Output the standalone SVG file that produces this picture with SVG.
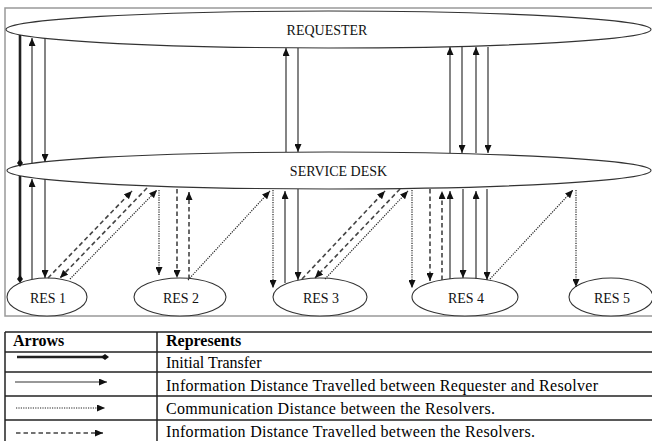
<svg xmlns="http://www.w3.org/2000/svg" width="652" height="441" viewBox="0 0 652 441">
<style>
.node{fill:#fff;stroke:#333;stroke-width:1.1}
.lbl{font-family:"Liberation Serif","Times New Roman",serif;font-size:14px;fill:#111;text-anchor:middle}
.tt{font-family:"Liberation Serif","Times New Roman",serif;font-size:16px;fill:#000}
.b{font-weight:bold}
.thick{stroke:#222;stroke-width:2.6;fill:none}
.solid{stroke:#333;stroke-width:1.2;fill:none}
.dotted{stroke:#222;stroke-width:1.2;stroke-dasharray:1.2 1.2;fill:none}
.dashed{stroke:#444;stroke-width:1.6;stroke-dasharray:4.5 3;fill:none}
.tbl{stroke:#222;stroke-width:1.5;fill:none}
</style>
<defs>
<marker id="ah" markerWidth="8" markerHeight="7" refX="8" refY="3.5" orient="auto" markerUnits="userSpaceOnUse"><path d="M0,0 L8,3.5 L0,7 z" fill="#111"/></marker>
<marker id="dot" markerWidth="8" markerHeight="6" refX="5" refY="3" orient="auto" markerUnits="userSpaceOnUse"><path d="M0,3 L4,0 L8,3 L4,6 z" fill="#111"/></marker>
</defs>
<rect x="5" y="8" width="652" height="308" fill="#fff" stroke="#999" stroke-width="1.5"/>
<g id="requester"><ellipse class="node" cx="328.5" cy="29.5" rx="322.5" ry="18.5"/><text class="lbl" x="327" y="35">REQUESTER</text></g>
<g id="service-desk"><ellipse class="node" cx="329" cy="170.5" rx="322" ry="18.5"/><text class="lbl" x="338.5" y="176">SERVICE DESK</text></g>
<g id="res1"><ellipse class="node" cx="47" cy="297" rx="40" ry="19"/><text class="lbl" x="48" y="303">RES 1</text></g>
<g id="res2"><ellipse class="node" cx="180" cy="297" rx="46" ry="19"/><text class="lbl" x="181" y="303">RES 2</text></g>
<g id="res3"><ellipse class="node" cx="320" cy="297" rx="47" ry="19"/><text class="lbl" x="321" y="303">RES 3</text></g>
<g id="res4"><ellipse class="node" cx="465" cy="297" rx="53" ry="19"/><text class="lbl" x="466" y="303">RES 4</text></g>
<g id="res5"><ellipse class="node" cx="611" cy="297" rx="42" ry="19"/><text class="lbl" x="612" y="303">RES 5</text></g>
<g id="connectors">
<line class="thick" x1="20" y1="35" x2="20" y2="164" marker-end="url(#dot)"/>
<line class="solid" x1="32" y1="163" x2="32" y2="38" marker-end="url(#ah)"/>
<line class="solid" x1="45" y1="38" x2="45" y2="162" marker-end="url(#ah)"/>
<line class="solid" x1="286" y1="152" x2="286" y2="48" marker-end="url(#ah)"/>
<line class="solid" x1="298" y1="48" x2="298" y2="152" marker-end="url(#ah)"/>
<line class="solid" x1="450" y1="153" x2="450" y2="47" marker-end="url(#ah)"/>
<line class="solid" x1="462" y1="47" x2="462" y2="153" marker-end="url(#ah)"/>
<line class="solid" x1="476" y1="153" x2="476" y2="47" marker-end="url(#ah)"/>
<line class="solid" x1="488" y1="47" x2="488" y2="153" marker-end="url(#ah)"/>
<line class="thick" x1="20" y1="176" x2="20" y2="280" marker-end="url(#dot)"/>
<line class="solid" x1="32" y1="279" x2="32" y2="179" marker-end="url(#ah)"/>
<line class="solid" x1="45" y1="179" x2="45" y2="278" marker-end="url(#ah)"/>
<line class="dashed" x1="48" y1="278" x2="132" y2="191" marker-end="url(#ah)"/>
<line class="dashed" x1="147" y1="188" x2="60" y2="278" marker-end="url(#ah)"/>
<line class="dotted" x1="70" y1="279" x2="157" y2="190" marker-end="url(#ah)"/>
<line class="dotted" x1="159" y1="190" x2="159" y2="275" marker-end="url(#ah)"/>
<line class="dashed" x1="177" y1="189" x2="177" y2="278" marker-end="url(#ah)"/>
<line class="dashed" x1="189" y1="279" x2="189" y2="192" marker-end="url(#ah)"/>
<line class="dotted" x1="188" y1="280" x2="270" y2="191" marker-end="url(#ah)"/>
<line class="dotted" x1="273" y1="190" x2="273" y2="288" marker-end="url(#ah)"/>
<line class="solid" x1="285" y1="283" x2="285" y2="191" marker-end="url(#ah)"/>
<line class="solid" x1="298" y1="189" x2="298" y2="280" marker-end="url(#ah)"/>
<line class="dashed" x1="302" y1="279" x2="385" y2="191" marker-end="url(#ah)"/>
<line class="dashed" x1="400" y1="189" x2="315" y2="278" marker-end="url(#ah)"/>
<line class="dotted" x1="325" y1="279" x2="408" y2="191" marker-end="url(#ah)"/>
<line class="dotted" x1="412" y1="190" x2="412" y2="288" marker-end="url(#ah)"/>
<line class="dashed" x1="430" y1="189" x2="430" y2="281" marker-end="url(#ah)"/>
<line class="dashed" x1="442" y1="280" x2="442" y2="191" marker-end="url(#ah)"/>
<line class="solid" x1="450" y1="279" x2="450" y2="191" marker-end="url(#ah)"/>
<line class="solid" x1="463" y1="189" x2="463" y2="278" marker-end="url(#ah)"/>
<line class="solid" x1="476" y1="279" x2="476" y2="191" marker-end="url(#ah)"/>
<line class="solid" x1="487" y1="189" x2="487" y2="280" marker-end="url(#ah)"/>
<line class="dotted" x1="490" y1="279" x2="573" y2="190" marker-end="url(#ah)"/>
<line class="dotted" x1="576" y1="190" x2="576" y2="287" marker-end="url(#ah)"/>
</g>
<g id="legend">
<line class="tbl" x1="5" y1="332" x2="652" y2="332"/>
<line class="tbl" x1="5" y1="352" x2="652" y2="352"/>
<line class="tbl" x1="5" y1="372" x2="652" y2="372"/>
<line class="tbl" x1="5" y1="396" x2="652" y2="396"/>
<line class="tbl" x1="5" y1="420" x2="652" y2="420"/>
<line class="tbl" x1="5" y1="332" x2="5" y2="441"/>
<line class="tbl" x1="157" y1="332" x2="157" y2="441"/>
<text class="tt b" x="13" y="346">Arrows</text>
<text class="tt b" x="166" y="346">Represents</text>
<line class="thick" x1="17" y1="357" x2="106" y2="357" marker-end="url(#dot)"/>
<line class="solid" x1="15" y1="382" x2="107" y2="382" marker-end="url(#ah)"/>
<line class="dotted" x1="16" y1="408" x2="105" y2="408" marker-end="url(#ah)"/>
<line class="dashed" x1="16" y1="433" x2="103" y2="433" marker-end="url(#ah)"/>
<text class="tt" x="166" y="368">Initial Transfer</text>
<text class="tt" x="166" y="391" textLength="432" lengthAdjust="spacing">Information Distance Travelled between Requester and Resolver</text>
<text class="tt" x="166" y="414" textLength="329" lengthAdjust="spacing">Communication Distance between the Resolvers.</text>
<text class="tt" x="166" y="437" textLength="369" lengthAdjust="spacing">Information Distance Travelled between the Resolvers.</text>
</g>
</svg>
